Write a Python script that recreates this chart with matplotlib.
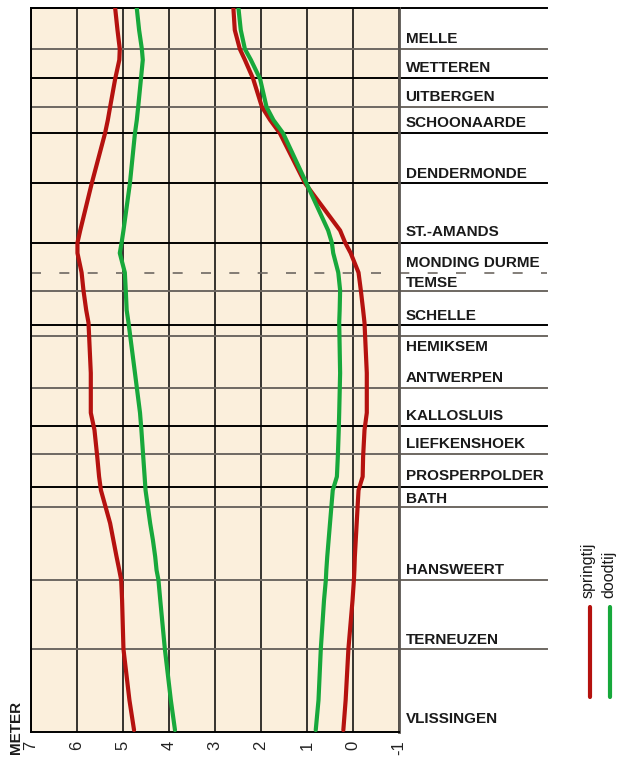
import matplotlib.pyplot as plt
from matplotlib.lines import Line2D

plt.rcParams['font.family'] = ['Liberation Sans', 'DejaVu Sans']

# afstand (km vanaf Vlissingen) van de meetpunten op de curves
km_pts = [160.0, 155.2, 151.0, 148.6, 144.4, 138.2, 135.3, 132.4, 121.3, 110.9, 108.2,
          105.9, 101.6, 97.7, 93.3, 90.5, 79.4, 70.6, 66.8, 60.9, 56.5, 53.5, 46.2,
          42.5, 38.8, 35.8, 33.7, 29.2, 18.4, 7.1, 0.5]

# hoogwater / laagwater (meter), springtij en doodtij
hw_spring = [5.17, 5.12, 5.07, 5.08, 5.17, 5.28, 5.33, 5.39, 5.68, 5.93, 5.99,
             5.99, 5.90, 5.86, 5.80, 5.75, 5.70, 5.70, 5.62, 5.56, 5.52, 5.48, 5.28,
             5.21, 5.14, 5.08, 5.04, 5.02, 4.99, 4.86, 4.76]
hw_dood = [4.70, 4.65, 4.59, 4.57, 4.61, 4.67, 4.70, 4.74, 4.85, 4.99, 5.03,
           5.07, 4.96, 4.94, 4.92, 4.88, 4.74, 4.63, 4.60, 4.56, 4.53, 4.51, 4.41,
           4.35, 4.30, 4.27, 4.23, 4.19, 4.09, 3.96, 3.87]
lw_spring = [2.60, 2.57, 2.46, 2.35, 2.17, 1.98, 1.80, 1.59, 1.04, 0.28, 0.17,
             0.05, -0.12, -0.17, -0.22, -0.25, -0.30, -0.30, -0.25, -0.22, -0.21, -0.12, -0.08,
             -0.06, -0.04, -0.03, -0.02, 0.01, 0.10, 0.16, 0.21]
lw_dood = [2.49, 2.44, 2.35, 2.22, 2.02, 1.88, 1.73, 1.52, 1.01, 0.54, 0.46,
           0.43, 0.32, 0.28, 0.29, 0.30, 0.28, 0.30, 0.31, 0.33, 0.35, 0.44, 0.50,
           0.53, 0.56, 0.58, 0.59, 0.63, 0.70, 0.75, 0.81]

# stations (naam, positie van het label)
stations = ["MELLE", "WETTEREN", "UITBERGEN", "SCHOONAARDE", "DENDERMONDE", "ST.-AMANDS",
            "MONDING DURME", "TEMSE", "SCHELLE", "HEMIKSEM", "ANTWERPEN", "KALLOSLUIS",
            "LIEFKENSHOEK", "PROSPERPOLDER", "BATH", "HANSWEERT", "TERNEUZEN", "VLISSINGEN"]
station_km = [153.2, 146.9, 140.5, 134.6, 123.4, 110.6, 103.8, 99.2, 92.0, 85.1,
              78.2, 69.9, 63.7, 56.7, 51.6, 35.9, 20.4, 2.9]

# scheidingslijnen tussen de vakken
grens_km = [151.0, 144.5, 138.2, 132.4, 121.3, 108.2, 97.6, 90.1, 87.6, 76.0,
            67.8, 61.4, 54.3, 49.7, 33.7, 18.3]
grens_kleur = ["#6e6862", "k", "#6e6862", "k", "k", "k", "#6e6862", "k", "#6e6862", "#6e6862",
               "k", "#6e6862", "k", "#6e6862", "#6e6862", "#6e6862"]
durme_km = 101.6

meter_ticks = [7, 6, 5, 4, 3, 2, 1, 0, -1]

red = "#b5120f"
green = "#17a83b"

fig = plt.figure(figsize=(6.19, 7.59), dpi=100)
ax = fig.add_axes([31 / 619, 1 - 732.3 / 759, 368 / 619, 724 / 759])
ax.set_facecolor("#fbefdc")

ax.set_xlim(7, -1)
ax.set_ylim(0, 160)

# verticale rasterlijnen
for m in meter_ticks:
    ax.axvline(m, color="k", lw=1.1, zorder=1)

# horizontale lijnen, doorgetrokken tot onder de namen
ytr = ax.get_yaxis_transform()
for y, c in zip(grens_km, grens_kleur):
    ax.plot([0, 1.402], [y, y], color=c, lw=1.4, transform=ytr, clip_on=False, zorder=1)
ax.plot([0, 1.402], [160, 160], color="k", lw=1.4, transform=ytr, clip_on=False, zorder=1)
ax.plot([0, 1.402], [durme_km, durme_km], color="#6e6862", lw=1.2, dashes=(6, 11),
        transform=ytr, clip_on=False, zorder=1)

# curves
ax.plot(hw_spring, km_pts, color=red, lw=3, solid_capstyle="round", zorder=3)
ax.plot(hw_dood, km_pts, color=green, lw=3, solid_capstyle="round", zorder=3)
ax.plot(lw_spring, km_pts, color=red, lw=3, solid_capstyle="round", zorder=3)
ax.plot(lw_dood, km_pts, color=green, lw=3, solid_capstyle="round", zorder=3)

# namen van de stations
for naam, y in zip(stations, station_km):
    ax.text(1.018, y, naam, transform=ytr, ha="left", va="center",
            fontsize=11, fontweight="bold", color="#1a1a1a")

# assen
ax.set_xticks(meter_ticks)
ax.set_xticklabels([str(m) for m in meter_ticks], rotation=90,
                   fontsize=12, color="#222222")
ax.tick_params(axis="x", length=0, pad=6)
ax.set_yticks([])
for s in ["left", "top", "bottom"]:
    ax.spines[s].set_color("k")
    ax.spines[s].set_linewidth(1.4)
ax.spines["right"].set_color("#5a5550")
ax.spines["right"].set_linewidth(2)

fig.text(16 / 619, 1 - 727 / 759, "METER", rotation=90, ha="center", va="center",
         fontsize=11, fontweight="bold", color="#1a1a1a")

# legende
fig.add_artist(Line2D([590 / 619, 590 / 619], [1 - 607 / 759, 1 - 697 / 759], color=red,
                      lw=3, solid_capstyle="round"))
fig.add_artist(Line2D([610 / 619, 610 / 619], [1 - 607 / 759, 1 - 697 / 759], color=green,
                      lw=3, solid_capstyle="round"))
fig.text(588 / 619, 1 - 598 / 759, "springtij", rotation=90, ha="center", va="bottom",
         fontsize=11.5, color="#1a1a1a")
fig.text(609 / 619, 1 - 598 / 759, "doodtij", rotation=90, ha="center", va="bottom",
         fontsize=11.5, color="#1a1a1a")

plt.savefig("out.png", dpi=100)
